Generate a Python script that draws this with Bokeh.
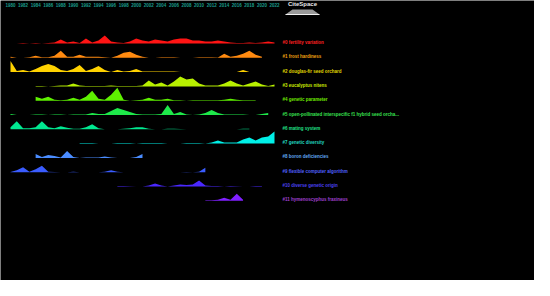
from bokeh.plotting import figure
from bokeh.models import Range1d
from bokeh.embed import file_html
from bokeh.resources import INLINE
from bokeh.core.properties import value

# ---------------- data ----------------
tick_years = list(range(1980, 2023, 2))

cluster_labels = [
    "#0 fertility variation",
    "#1 frost hardiness",
    "#2 douglas-fir seed orchard",
    "#3 eucalyptus nitens",
    "#4 genetic parameter",
    "#5 open-pollinated interspecific f1 hybrid seed orcha...",
    "#6 mating system",
    "#7 genetic diversity",
    "#8 boron deficiencies",
    "#9 flexible computer algorithm",
    "#10 diverse genetic origin",
    "#11 hymenoscyphus fraxineus",
]

cluster_colors = ["#ff1414", "#ff8a10", "#ffd200", "#b8f000", "#5ef000", "#1ee84a",
                  "#00e890", "#00f0e8", "#4a8cff", "#3a5cff", "#4a28ff", "#8020ff"]
label_colors = ["#ff2020", "#f0a010", "#e0d800", "#c8e800", "#70e800", "#38e050",
                "#20e088", "#20d8c0", "#60a8f0", "#5060ff", "#4a40f0", "#a040d0"]

# first year of each cluster's activity
cluster_start = [1981, 1980, 1980, 1984, 1984, 1980, 1980, 1991, 1984, 1980, 1997, 2011]

# yearly citation burst heights (approx. counts)
c0_vals = [0, 0.5, 0, 0.5, 0, 0.5, 1, 4, 1, 2, 0.5, 5, 1, 3, 8, 2, 1, 0.5, 2, 5, 3,
           2, 4, 3, 2, 4, 5, 5, 3, 3, 2, 2, 3, 2, 1, 0.5, 0.5, 1, 0.5, 1, 2, 1]
c1_vals = [1, 0, 0, 0.5, 2, 0.5, 0.5, 2, 7, 1, 1, 3, 1, 1, 1, 0.5, 0, 2, 5, 6, 3,
           1, 0, 0, 0.5, 0.5, 0.5, 0, 0, 0, 0.5, 0.5, 0.5, 0.3, 4, 1, 2, 4, 7, 3, 1]
c2_vals = [11, 1, 2, 0.5, 3, 6, 8, 6, 2, 1, 3, 7, 1, 3, 6, 2, 0, 2, 0.5, 1, 3,
           0.5, 0.5, 0.5, 0.5, 0.5, 0.5, 0, 0, 0, 0, 0, 0, 0, 0, 0, 0, 2, 0]
c3_vals = [0.5, 0.5, 0, 0.5, 1, 1, 3, 1, 0.5, 0.5, 0.5, 0.5, 1, 0.5, 0.5, 0.5, 0.5,
           1, 6, 2, 4, 1, 5, 10, 7, 8, 3, 1, 1, 1, 3, 6, 3, 1, 3, 5, 2, 0.5, 2]
c4_vals = [4, 2, 4, 1, 0.5, 1, 3, 1, 4, 10, 2, 1, 6, 13, 1, 0, 0.5, 1, 3, 1, 1, 2,
           0.5, 0.5, 0, 0.5, 0.5, 0.5, 0.5, 0.5, 1, 2, 1, 0.5, 0.5, 0.5]
c5_vals = [1, 0, 0, 0, 0.5, 0.5, 0, 0.5, 0.5, 0, 0.5, 0.5, 0.5, 2, 1, 1, 4, 7, 5, 3,
           1, 0.5, 0.5, 0.5, 1, 10, 1, 3, 0.5, 0, 0.5, 2, 5, 2, 0.5, 0.5, 0.5, 0.5,
           0, 0, 1, 2]
c6_vals = [2, 8, 1, 1, 2, 8, 2, 1, 3, 1.5, 0.5, 0.5, 2, 5, 1, 0, 0, 0, 0.5, 1, 2, 2,
           0.5, 0, 0, 0.5, 0.5, 0.3, 0, 0, 0, 0, 0, 0, 0, 0, 0, 0.5, 0.5]
c7_vals = [0.5, 0.5, 0.5, 0, 0, 0, 0.5, 0.5, 0.5, 0, 0.5, 0.5, 0.5, 0.5, 0, 0, 0,
           0.5, 0.5, 0.5, 0, 1, 3, 1, 1, 1, 4, 6, 3, 6, 7, 12]
c8_vals = [4, 1, 3, 2, 0.5, 7, 1, 0, 0.5, 0.5, 0.5, 1.5, 0.5, 0, 0, 0, 1, 4]
c9_vals = [0.3, 2, 5, 0.5, 3, 6.5, 0.5, 0.3, 0, 0, 0.5, 0, 0, 0, 0, 0.5, 2, 0.5,
           0, 0, 0, 0, 0, 0, 0, 0, 0, 0, 0.3, 0, 0.5, 4.5]
c10_vals = [0.5, 0.5, 0.3, 0, 0, 1, 3, 1, 0, 1, 2, 1.5, 2, 6, 1, 0.5, 0.5, 0, 0.5,
            0.3, 0, 0, 0.5, 0.5]
c11_vals = [0.5, 0.5, 1, 3, 1, 7, 1]

cluster_values = [c0_vals, c1_vals, c2_vals, c3_vals, c4_vals, c5_vals,
                  c6_vals, c7_vals, c8_vals, c9_vals, c10_vals, c11_vals]

# ---------------- layout ----------------
W, H = 534, 280
ROW_PX = 14.3            # pixels per row unit
PX_PER_YEAR = 6.2857
x0 = 1980 - 10 / PX_PER_YEAR
x1 = x0 + W / PX_PER_YEAR
y_top = 43 / ROW_PX
y_bot = y_top - H / ROW_PX

p = figure(width=W, height=H, output_backend="svg", toolbar_location=None,
           x_range=Range1d(x0, x1), y_range=Range1d(y_bot, y_top),
           background_fill_color="black", border_fill_color="black",
           min_border=0, outline_line_color=None)
p.axis.visible = False
p.grid.visible = False

font = value("Liberation Sans")

# year labels at top
p.text(x=tick_years, y=[y_top - 4 / ROW_PX] * len(tick_years),
       text=[str(y) for y in tick_years], text_color="#1a9c8c",
       text_font=font, text_font_size="4.5px", text_font_style="bold",
       text_align="center", text_baseline="middle")

# cluster mountains
for i, (start, vals) in enumerate(zip(cluster_start, cluster_values)):
    years = [start + k for k in range(len(vals))]
    base = [-i] * len(vals)
    top = [-i + v / ROW_PX for v in vals]
    p.varea(x=years, y1=base, y2=top, fill_color=cluster_colors[i], fill_alpha=1.0)

# cluster labels
label_x = 1980 + (290 - 18) / PX_PER_YEAR
p.text(x=[label_x] * len(cluster_labels),
       y=[-i + 1.0 / ROW_PX for i in range(len(cluster_labels))],
       text=cluster_labels, text_color=label_colors,
       text_font=font, text_font_size="4.5px", text_font_style="bold",
       text_align="left", text_baseline="middle")

# CiteSpace logo (decoration)
logo_x = 1980 + (310 - 18) / PX_PER_YEAR
p.text(x=[logo_x], y=[y_top - 3 / ROW_PX], text=["CiteSpace"], text_color="#e8e8e8",
       text_font=font, text_font_size="6px", text_font_style="bold",
       text_align="center", text_baseline="middle")
lx = [1980 + (q - 18) / PX_PER_YEAR for q in (293, 300, 320, 327)]
ly = [y_top - d / ROW_PX for d in (14, 9, 9, 14)]
p.patch(x=lx, y=ly, fill_color="#9a9a9a", line_color=None)
p.line(x=[lx[0], lx[3]], y=[ly[0], ly[3]], line_color="#f0f0f0", line_width=1)

open("out.html", "w").write(file_html(p, INLINE))
